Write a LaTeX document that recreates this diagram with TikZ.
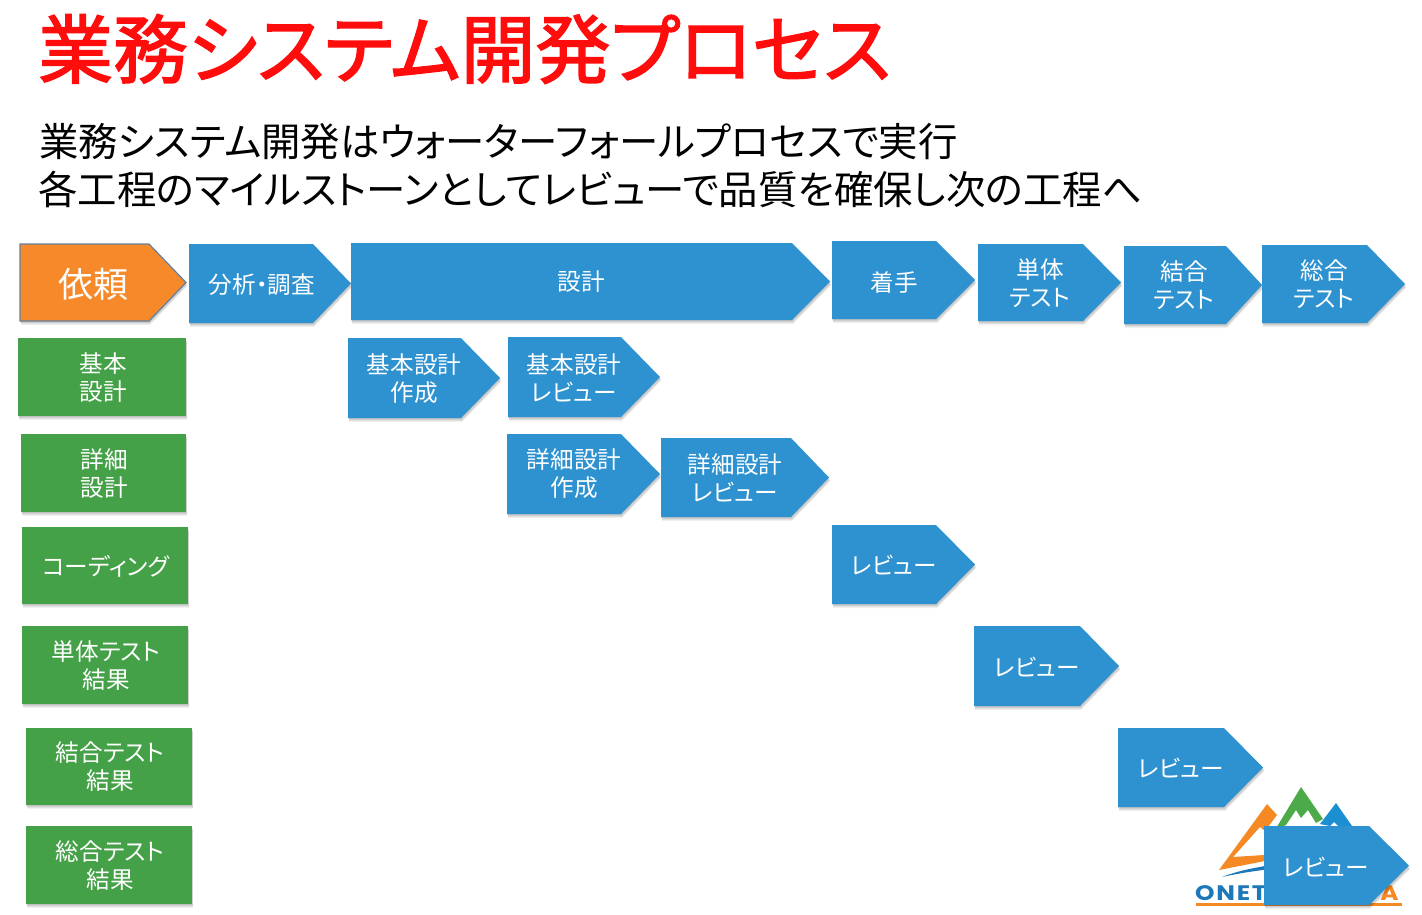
\documentclass[tikz,border=0pt]{standalone}
\usepackage{fontspec}
\setmainfont[RawFeature=+palt]{Noto Sans CJK JP}
\newfontfamily\titlefont[RawFeature=+palt,FakeBold=2]{Noto Sans CJK JP}
\newfontfamily\logofont[LetterSpace=7]{Poppins}
\definecolor{pblue}{HTML}{2E92D0}
\definecolor{pgreen}{HTML}{45A148}
\definecolor{porange}{HTML}{F68A2B}
\definecolor{pedge}{HTML}{64809F}
\definecolor{ptitle}{HTML}{FF0D0D}
\definecolor{lgreen}{HTML}{4CAB48}
\definecolor{lblue}{HTML}{1B8FD2}
\definecolor{lorange}{HTML}{F58A24}
\definecolor{lnavy}{HTML}{1C78B8}
\tikzset{
  lbl/.style={text=white,align=center,inner sep=0pt,font=\fontsize{23.6}{28}\selectfont},
  soft1/.style={fill=black,opacity=.07,shift={(0,1)}},
  soft2/.style={fill=black,opacity=.07,shift={(1,2)}},
  soft3/.style={fill=black,opacity=.07,shift={(1,3)}},
  soft4/.style={fill=black,opacity=.05,shift={(1,4)}},
  subline/.style={inner sep=0pt,anchor=west,font=\fontsize{39.4}{40}\selectfont},
  logotxt/.style={inner sep=0pt,anchor=base west,xscale=1.18,transform shape,font=\logofont\bfseries\fontsize{21}{21}\selectfont},
}
\newcommand{\softshadow}[1]{%
  \fill[soft1] #1; \fill[soft2] #1; \fill[soft3] #1; \fill[soft4] #1;
}
% name, x1,y1,x2,y2, shoulder x, text x,y, text
\newcommand{\pentagon}[9]{%
  \softshadow{(#2,#3) -- (#6,#3) -- (#4,{(#3+#5)/2}) -- (#6,#5) -- (#2,#5) -- cycle}
  \fill[pblue] (#2,#3) -- (#6,#3) -- (#4,{(#3+#5)/2}) -- (#6,#5) -- (#2,#5) -- cycle;
  \node[lbl] (#1) at (#7,#8) {#9};
}
\newcommand{\greenbox}[7]{%
  \softshadow{(#2,#3) rectangle (#4,#5)}
  \fill[pgreen] (#2,#3) rectangle (#4,#5);
  \node[lbl] (#1) at ({(#2+#4)/2+1},#6) {#7};
}
\begin{document}
\begin{tikzpicture}[x=1pt,y=-1pt]
\useasboundingbox (0,0) rectangle (1422,914);
\fill[white] (0,0) rectangle (1422,914);
% title
\node[inner sep=0pt,anchor=west,text=ptitle,font=\titlefont\fontsize{74.9}{75}\selectfont] (title) at (38,49) {業務システム開発プロセス};
\node[subline] (sub1) at (39,142) {業務システム開発はウォーターフォールプロセスで実行};
\node[subline] (sub2) at (38,189) {各工程のマイルストーンとしてレビューで品質を確保し次の工程へ};
% logo
\fill[lorange] (1267,804) -- (1277,815) -- (1265,831) -- (1260,827) -- (1233,857) -- (1264,855) -- (1270,855) -- (1270,860) -- (1219,870) -- cycle;
\fill[lgreen] (1301,787) -- (1323,819) -- (1316,823) -- (1308,810) -- (1301,818) -- (1296,810) -- (1286,825) -- (1275,830) -- cycle;
\fill[lblue] (1336,803) -- (1352,826) -- (1338,826) -- (1334,822) -- (1330,826) -- (1320,824) -- cycle;
\fill[lnavy] (1222,877) .. controls (1240,870) and (1255,868) .. (1270,865) -- (1270,869) .. controls (1255,871) and (1240,873) .. (1222,877) -- cycle;
\node[logotxt,text=lnavy] (logoa) at (1195,900) {ONET};
\node[logotxt,text=lorange] (logob) at (1380,900) {A};
\fill[lorange] (1196,903) rectangle (1402,906);
% top row
\softshadow{(20,244) -- (149,244) -- (186,282.5) -- (149,321) -- (20,321) -- cycle}
\filldraw[fill=porange,draw=pedge,line width=1.2pt] (20,244) -- (149,244) -- (186,282.5) -- (149,321) -- (20,321) -- cycle;
\node[lbl,font=\fontsize{35}{35}\selectfont] (irai) at (93,284) {依頼};
\pentagon{bunseki}{189}{244}{351}{323}{313}{262}{285}{分析・調査}
\pentagon{sekkei}{351}{243}{830}{320}{792}{581}{282}{設計}
\pentagon{chakushu}{832}{241}{975}{319}{936}{894}{282}{着手}
\pentagon{tantai}{978}{244}{1121}{321}{1083}{1040}{283}{単体\\テスト}
\pentagon{ketsugo}{1124}{246}{1262}{324}{1226}{1184}{285}{結合\\テスト}
\pentagon{sogo}{1262}{245}{1405}{323}{1367}{1324}{284}{総合\\テスト}
% green column
\greenbox{g1}{18}{338}{186}{416}{378}{基本\\設計}
\greenbox{g2}{21}{434}{186}{512}{473}{詳細\\設計}
\greenbox{g3}{22}{527}{188}{604}{566}{コーディング}
\greenbox{g4}{22}{626}{188}{704}{666}{単体テスト\\結果}
\greenbox{g5}{26}{728}{192}{805}{767}{結合テスト\\結果}
\greenbox{g6}{26}{826}{192}{904}{866}{総合テスト\\結果}
% reviews
\pentagon{k1}{348}{338}{500}{418}{461}{414}{379}{基本設計\\作成}
\pentagon{k2}{508}{337}{660}{417}{621}{574}{378}{基本設計\\レビュー}
\pentagon{s1}{507}{434}{660}{514}{621}{574}{474}{詳細設計\\作成}
\pentagon{s2}{661}{438}{829}{517}{791}{735}{478}{詳細設計\\レビュー}
\pentagon{r1}{832}{525}{975}{604}{936}{894}{565}{レビュー}
\pentagon{r2}{974}{626}{1119}{706}{1080}{1037}{667}{レビュー}
\pentagon{r3}{1118}{728}{1263}{807}{1224}{1181}{768}{レビュー}
\pentagon{r4}{1264}{826}{1409}{905}{1369}{1326}{867}{レビュー}
\end{tikzpicture}
\end{document}
